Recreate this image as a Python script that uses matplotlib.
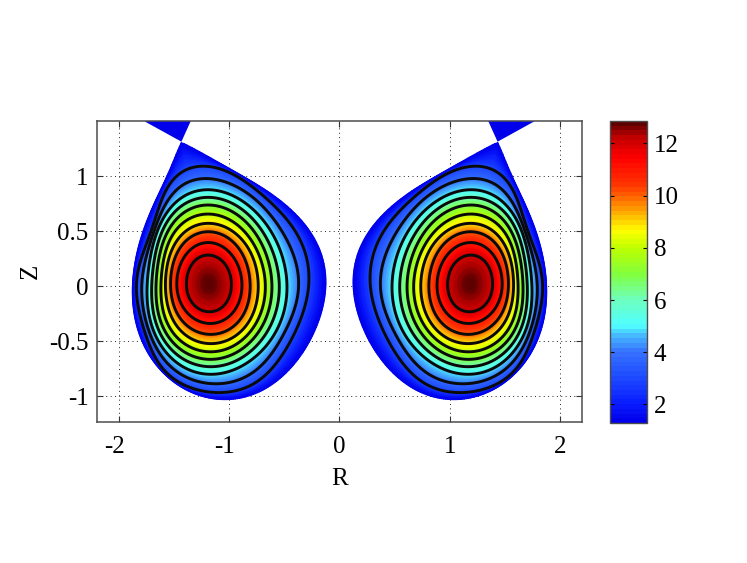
import numpy as np
import matplotlib
matplotlib.use("Agg")
import matplotlib.pyplot as plt
from matplotlib.colors import LinearSegmentedColormap, Normalize
from matplotlib.transforms import ScaledTranslation

plt.rcParams['font.family'] = ['Liberation Serif', 'DejaVu Serif']
plt.rcParams['axes.unicode_minus'] = False

# ---- values ---------------------------------------------------------------
AXIS_R = 1.186
AXIS_Z = 0.018
V_MIN = 1.29
V_MAX = 12.86
LEVELS = [12, 11, 10, 9, 8, 7, 6, 5, 4, 3]
EDGE_VALUE = V_MIN
ANGLES = [0, 30, 45, 60, 78.7, 90, 105, 120, 135, 150, 165, 180, 210, 225, 240, 270, 300, 315, 330]
CORNER_ANGLE = 78.7
# distance from magnetic axis (1/330 data units), one column per level
RADII = [
    [68, 97, 115, 130, 145, 160, 173, 188, 202, 216],
    [70, 100, 122, 138, 154, 170, 184, 198, 210, 222],
    [76, 107, 132, 152, 170, 187, 202, 215, 227, 238],
    [82, 116, 146, 170, 192, 213, 232, 250, 268, 285],
    [87, 124, 156, 181, 208, 235, 258, 282, 316, 353],
    [87, 125, 157, 182, 210, 237, 260, 282, 314, 350],
    [84, 121, 153, 178, 204, 230, 252, 274, 303, 332],
    [80, 115, 146, 170, 194, 218, 240, 262, 290, 315],
    [75, 108, 136, 160, 182, 204, 225, 246, 274, 302],
    [71, 102, 128, 152, 173, 194, 215, 238, 270, 305],
    [68, 100, 125, 150, 170, 190, 212, 235, 268, 302],
    [68, 100, 125, 150, 170, 190, 212, 235, 268, 300],
    [72, 105, 132, 157, 178, 198, 220, 243, 270, 297],
    [76, 110, 140, 165, 186, 207, 228, 250, 277, 305],
    [80, 115, 147, 173, 197, 218, 240, 262, 293, 325],
    [83, 118, 150, 178, 203, 226, 248, 271, 298, 323],
    [78, 110, 140, 165, 187, 207, 226, 245, 265, 285],
    [74, 104, 130, 152, 172, 190, 206, 222, 238, 255],
    [70, 100, 122, 140, 157, 173, 188, 202, 216, 230],
]
RADIUS_UNITS = 330.0
# plasma edge read from the right lobe, going round from the X point (offsets from axis, same units)
EDGE_DX = [82, 110, 140, 170, 200, 222, 232, 225, 200, 150, 80, 10, -90, -160, -230, -290, -330, -355, -350, -320, -270, -190, -90, 10, 82]
EDGE_DY = [425, 357, 297, 227, 142, 62, -3, -78, -168, -248, -313, -340, -343, -323, -268, -188, -98, -8, 52, 122, 202, 267, 332, 387, 425]
LEG_R = [1.434, 1.352, 1.34, 1.78, 1.763]
LEG_Z = [1.312, 1.494, 1.52, 1.52, 1.494]
X_TICKS = [-2, -1, 0, 1, 2]
Y_TICKS = [-1, -0.5, 0, 0.5, 1]
Y_TICK_LABELS = ['-1', '-0.5', '0', '0.5', '1']
CBAR_TICKS = [2, 4, 6, 8, 10, 12]
CMAP_VALUES = [1.29, 2, 3, 4, 4.6, 5, 6, 7, 8, 8.7, 9.4, 10, 10.5, 11.5, 12.3, 12.86]
CMAP_RGB = [(0, 0, 235), (10, 30, 255), (30, 75, 255), (55, 115, 255), (70, 185, 255),
            (80, 255, 255), (110, 255, 190), (130, 255, 60), (190, 255, 0), (255, 255, 0),
            (255, 170, 0), (255, 100, 0), (255, 50, 0), (255, 0, 0), (195, 0, 0), (95, 0, 0)]

norm = Normalize(V_MIN, V_MAX)
cmap = LinearSegmentedColormap.from_list(
    'field', [(norm(v), tuple(c / 255 for c in rgb)) for v, rgb in zip(CMAP_VALUES, CMAP_RGB)], N=64)

mesh_deg = np.unique(np.r_[np.linspace(0, 360, 361), CORNER_ANGLE])
mesh_th = np.radians(mesh_deg)


def chord(px, py):
    s = np.r_[0, np.cumsum(np.hypot(np.diff(px), np.diff(py)))]
    return s / s[-1]


def to_polar(x, y):
    """curve (dense, going round the axis) -> radius on the mesh angles"""
    a = np.degrees(np.arctan2(y, x)) % 360
    r = np.hypot(x, y)
    o = np.argsort(a)
    a, r = a[o], r[o]
    return np.interp(mesh_deg, np.r_[a[-1] - 360, a, a[0] + 360], np.r_[r[-1], r, r[0]])


def fit_closed(px, py, order):
    """least-squares smooth closed curve through one read flux surface"""
    xx, yy = np.r_[px, px[0]], np.r_[py, py[0]]
    s = chord(xx, yy)[:-1]
    def basis(t):
        cols = [np.ones_like(t)]
        for m in range(1, order + 1):
            cols += [np.cos(2 * np.pi * m * t), np.sin(2 * np.pi * m * t)]
        return np.column_stack(cols)
    cx = np.linalg.lstsq(basis(s), px, rcond=None)[0]
    cy = np.linalg.lstsq(basis(s), py, rcond=None)[0]
    t = np.linspace(0, 1, 1500, endpoint=False)
    return to_polar(basis(t) @ cx, basis(t) @ cy)


def fit_edge(px, py, deg):
    """smooth curve through the read edge, pinned at the X point at both ends"""
    s = chord(px, py) * 2 - 1
    w = np.ones_like(s)
    w[0] = w[-1] = 50
    cx = np.polynomial.chebyshev.chebfit(s, px, deg, w=w)
    cy = np.polynomial.chebyshev.chebfit(s, py, deg, w=w)
    t = np.linspace(-1, 1, 3000)
    return to_polar(np.polynomial.chebyshev.chebval(t, cx), np.polynomial.chebyshev.chebval(t, cy))


theta = np.radians(ANGLES)
radii = np.array(RADII, float)
FIT_ORDER = [3, 3, 3, 3, 4, 4, 4, 4, 5, 6]
rows_r = [np.zeros_like(mesh_th)]
rows_v = [V_MAX]
for k, val in enumerate(LEVELS):
    rows_r.append(fit_closed(radii[:, k] * np.cos(theta), radii[:, k] * np.sin(theta), FIT_ORDER[k]))
    rows_v.append(val)
rows_r.append(fit_edge(np.array(EDGE_DX, float), np.array(EDGE_DY, float), 12))
rows_v.append(EDGE_VALUE)

sub = 5
fr, fv = [], []
for a in range(len(rows_v) - 1):
    for f in np.linspace(0, 1, sub, endpoint=False):
        fr.append(rows_r[a] * (1 - f) + rows_r[a + 1] * f)
        fv.append(np.full_like(mesh_th, rows_v[a] * (1 - f) + rows_v[a + 1] * f))
fr.append(rows_r[-1])
fv.append(np.full_like(mesh_th, rows_v[-1]))
mesh_r = np.array(fr) / RADIUS_UNITS
mesh_x = mesh_r * np.cos(mesh_th)
mesh_y = mesh_r * np.sin(mesh_th) + AXIS_Z
mesh_v = np.array(fv)

# ---- figure -------------------------------------------------------------------
W, H = 747, 563
fig = plt.figure(figsize=(W / 100, H / 100), dpi=100, facecolor='white')
ax = fig.add_axes([97 / W, (H - 422) / H, 485 / W, 301 / H])

for sign in (1, -1):
    R = sign * (AXIS_R + mesh_x)
    pc = ax.pcolormesh(R, mesh_y, mesh_v, shading='gouraud', cmap=cmap, norm=norm, zorder=2)
    ax.fill(sign * np.array(LEG_R), LEG_Z, color=cmap(0), lw=0, zorder=2)
    ax.contour(R, mesh_y, mesh_v, levels=sorted(LEVELS), colors='#0a0a0a', linewidths=2.1, zorder=3)

ax.set_xlim(-2.2, 2.2)
ax.set_ylim(-1.236, 1.5)
ax.set_xticks(X_TICKS)
ax.set_yticks(Y_TICKS)
ax.set_yticklabels(Y_TICK_LABELS)
ax.grid(True, color='#222222', linestyle=(0, (1, 3.5)), linewidth=0.7, zorder=1)
ax.set_axisbelow(True)
ax.tick_params(direction='in', top=True, right=True, length=4, width=0.8, labelsize=18,
               pad=6, color='#333333')
ax.tick_params(axis='x', pad=10)
for lab, val in zip(ax.get_xticklabels(), X_TICKS):
    if val < 0:
        lab.set_transform(lab.get_transform() + ScaledTranslation(-5 / 100, 0, fig.dpi_scale_trans))
for sp in ax.spines.values():
    sp.set_color('#4d4d4d')
    sp.set_linewidth(1.1)
    sp.set_zorder(5)
ax.set_xlabel('R', fontsize=18, labelpad=7)
ax.set_ylabel('Z', fontsize=18, labelpad=5)

cax = fig.add_axes([609.5 / W, (H - 423) / H, 37.5 / W, 302 / H])
cb = fig.colorbar(pc, cax=cax)
cb.set_ticks(CBAR_TICKS)
cb.outline.set_edgecolor('#4d4d4d')
cb.outline.set_linewidth(1.0)
cb.ax.tick_params(direction='in', left=True, right=True, length=3, width=0.8, labelsize=18, pad=5)

fig.savefig('out.png', dpi=100, facecolor='white')
